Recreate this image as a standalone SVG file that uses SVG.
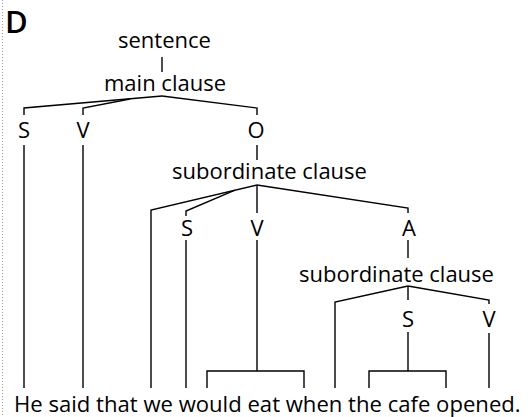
<svg xmlns="http://www.w3.org/2000/svg" width="528" height="417" viewBox="0 0 528 417">
<style>
.t{font-family:"Open Sans","Noto Sans","Liberation Sans",sans-serif;font-size:22px;fill:#000}
.c{text-anchor:middle}
.ln{fill:none;stroke:#000;stroke-width:1.4;stroke-linejoin:miter}
</style>
<rect width="528" height="417" fill="#fff"/>
<line x1="2.5" y1="0" x2="2.5" y2="417" stroke="#999" stroke-width="1" stroke-dasharray="1 2"/>
<text x="5" y="33" style="font-family:'Open Sans','Liberation Sans',sans-serif;font-size:31px;font-weight:600">D</text>
<g id="connectors" class="ln">
<path d="M162,57V72"/>
<path d="M24,115V108L162,96"/>
<path d="M83,115V108L130,99"/>
<path d="M162,96L257,108V115"/>
<path d="M24,145V388"/>
<path d="M83,145V388"/>
<path d="M257,145V160"/>
<path d="M151,388V210L257,185"/>
<path d="M186,216V211L235,190.2"/>
<path d="M257,185V213"/>
<path d="M257,185L408,208V213"/>
<path d="M186,240V388"/>
<path d="M257,240V371"/>
<path d="M207,388V371H304V388"/>
<path d="M408,240V258"/>
<path d="M335,388V302L408,286"/>
<path d="M408,286V300"/>
<path d="M408,286L489,300V304"/>
<path d="M408,332V371"/>
<path d="M369,388V371H446V388"/>
<path d="M489,333V388"/>
</g>
<g id="sentence"><text class="t" x="118" y="48">sentence</text></g>
<g id="main-clause"><text class="t" x="104" y="91">main clause</text></g>
<g id="S1"><text class="t c" x="24" y="138">S</text></g>
<g id="V1"><text class="t c" x="83" y="138">V</text></g>
<g id="O1"><text class="t c" x="256" y="138">O</text></g>
<g id="sub-clause-1"><text class="t" x="172" y="179">subordinate clause</text></g>
<g id="S2"><text class="t c" x="187" y="236">S</text></g>
<g id="V2"><text class="t c" x="257" y="236">V</text></g>
<g id="A2"><text class="t c" x="409" y="236">A</text></g>
<g id="sub-clause-2"><text class="t" x="299" y="282">subordinate clause</text></g>
<g id="S3"><text class="t c" x="408" y="327">S</text></g>
<g id="V3"><text class="t c" x="489" y="327">V</text></g>
<g id="sentence-text"><text class="t" x="14" y="412" style="font-size:22.1px">He said that we would eat when the cafe opened.</text></g>
</svg>
